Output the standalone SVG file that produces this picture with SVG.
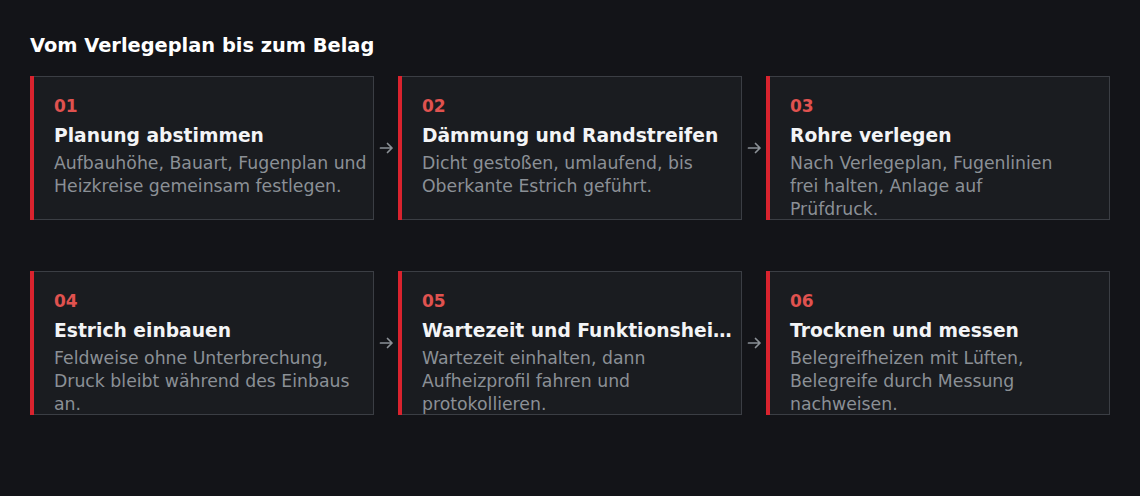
<svg xmlns="http://www.w3.org/2000/svg" width="1140" height="496" viewBox="0 0 1140 496">
<style>
.bg{fill:#131418}
.card{fill:#1a1c20;stroke:#3b3e44;stroke-width:1}
.bar{fill:#d9232e}
.num{font-family:"DejaVu Sans",sans-serif;font-weight:bold;font-size:17px;fill:#e0524f}
.head{font-family:"DejaVu Sans",sans-serif;font-weight:bold;font-size:18.7px;fill:#f3f4f6}
.desc{font-family:"DejaVu Sans",sans-serif;font-size:17.3px;fill:#8b9096}
.title{font-family:"DejaVu Sans",sans-serif;font-weight:bold;font-size:19.4px;fill:#ffffff}
.arrow{fill:none;stroke:#8b9096;stroke-width:1.7;stroke-linecap:round;stroke-linejoin:round}
</style>
<rect class="bg" x="0" y="0" width="1140" height="496"/>
<text class="title" x="30" y="52">Vom Verlegeplan bis zum Belag</text>
<g id="connectors">
<path class="arrow" d="M380.5 148H392M387.5 143.5L392 148L387.5 152.5"/>
<path class="arrow" d="M748.5 148H760M755.5 143.5L760 148L755.5 152.5"/>
<path class="arrow" d="M380.5 343H392M387.5 338.5L392 343L387.5 347.5"/>
<path class="arrow" d="M748.5 343H760M755.5 338.5L760 343L755.5 347.5"/>
</g>
<g id="step1">
<rect class="card" x="30.5" y="76.5" width="343" height="143"/>
<rect class="bar" x="30" y="76" width="4" height="144"/>
<text class="num" x="54" y="112">01</text>
<text class="head" x="54" y="142">Planung abstimmen</text>
<text class="desc" x="54" y="169">Aufbauhöhe, Bauart, Fugenplan und</text>
<text class="desc" x="54" y="192">Heizkreise gemeinsam festlegen.</text>
</g>
<g id="step2">
<rect class="card" x="398.5" y="76.5" width="343" height="143"/>
<rect class="bar" x="398" y="76" width="4" height="144"/>
<text class="num" x="422" y="112">02</text>
<text class="head" x="422" y="142">Dämmung und Randstreifen</text>
<text class="desc" x="422" y="169">Dicht gestoßen, umlaufend, bis</text>
<text class="desc" x="422" y="192">Oberkante Estrich geführt.</text>
</g>
<g id="step3">
<rect class="card" x="766.5" y="76.5" width="343" height="143"/>
<rect class="bar" x="766" y="76" width="4" height="144"/>
<text class="num" x="790" y="112">03</text>
<text class="head" x="790" y="142">Rohre verlegen</text>
<text class="desc" x="790" y="169">Nach Verlegeplan, Fugenlinien</text>
<text class="desc" x="790" y="192">frei halten, Anlage auf</text>
<text class="desc" x="790" y="215">Prüfdruck.</text>
</g>
<g id="step4">
<rect class="card" x="30.5" y="271.5" width="343" height="143"/>
<rect class="bar" x="30" y="271" width="4" height="144"/>
<text class="num" x="54" y="307">04</text>
<text class="head" x="54" y="337">Estrich einbauen</text>
<text class="desc" x="54" y="364">Feldweise ohne Unterbrechung,</text>
<text class="desc" x="54" y="387">Druck bleibt während des Einbaus</text>
<text class="desc" x="54" y="410">an.</text>
</g>
<g id="step5">
<rect class="card" x="398.5" y="271.5" width="343" height="143"/>
<rect class="bar" x="398" y="271" width="4" height="144"/>
<text class="num" x="422" y="307">05</text>
<text class="head" x="422" y="337">Wartezeit und Funktionshei…</text>
<text class="desc" x="422" y="364">Wartezeit einhalten, dann</text>
<text class="desc" x="422" y="387">Aufheizprofil fahren und</text>
<text class="desc" x="422" y="410">protokollieren.</text>
</g>
<g id="step6">
<rect class="card" x="766.5" y="271.5" width="343" height="143"/>
<rect class="bar" x="766" y="271" width="4" height="144"/>
<text class="num" x="790" y="307">06</text>
<text class="head" x="790" y="337">Trocknen und messen</text>
<text class="desc" x="790" y="364">Belegreifheizen mit Lüften,</text>
<text class="desc" x="790" y="387">Belegreife durch Messung</text>
<text class="desc" x="790" y="410">nachweisen.</text>
</g>
</svg>
